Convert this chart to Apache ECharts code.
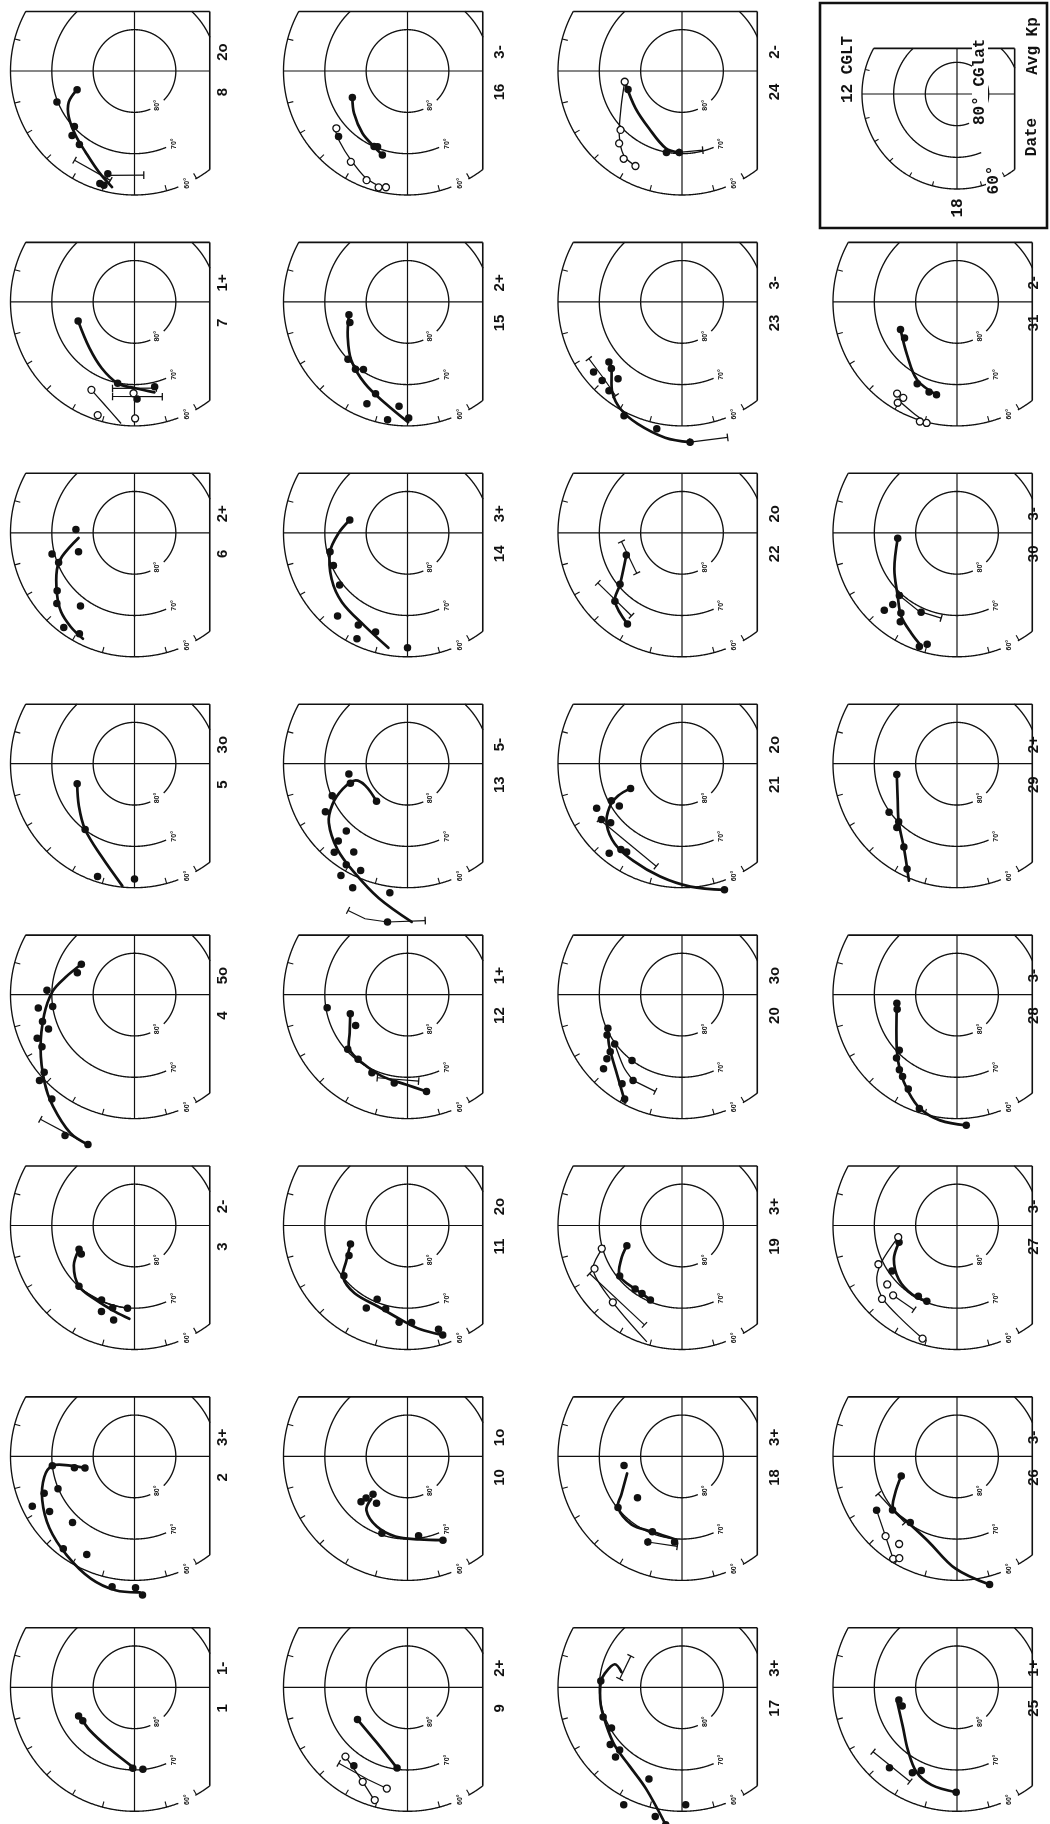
<!DOCTYPE html>
<html>
<head>
<meta charset="utf-8">
<script src="https://cdn.jsdelivr.net/npm/echarts@6/dist/echarts.min.js"></script>
<style>
  html, body { margin: 0; padding: 0; background: #fff; }
  #chart { width: 1050px; height: 1824px; }
</style>
</head>
<body>
<div id="chart"></div>
<script>
// Daily dials: corrected geomagnetic latitude (deg) vs corrected geomagnetic local time (h).
// Every point is [CGlat, CGLT].
const DATES = [1, 2, 3, 4, 5, 6, 7, 8, 9, 10, 11, 12, 13, 14, 15, 16,
               17, 18, 19, 20, 21, 22, 23, 24, 25, 26, 27, 28, 29, 30, 31];
const KP = ['1-', '3+', '2-', '5o', '3o', '2+', '1+', '2o',
            '2+', '1o', '2o', '1+', '5-', '3+', '2+', '3-',
            '3+', '3+', '3+', '3o', '2o', '2o', '3-', '2-',
            '1+', '3-', '3-', '3-', '2+', '3-', '2-'];

// filled symbols, one list per day
const FILLED = [
  [[74.8,13.81],[75.1,14.19],[70.4,17.92],[70.1,18.39]],
  [[75.2,12.72],[77.7,12.87],[70.0,12.43],[69.9,13.53],[66.4,13.48],[62.5,13.73],[65.5,14.2],[68.1,15.12],[61.8,15.49],[63.6,16.27],[58.0,17.35],[58.2,18.03],[56.4,18.22]],
  [[75.4,13.55],[75.4,13.88],[70.1,15.17],[70.3,16.41],[67.7,16.6],[69.4,17.01],[66.6,17.17],[69.9,17.68]],
  [[75.2,10.02],[75.2,10.61],[68.8,11.81],[70.0,12.55],[66.5,12.53],[66.8,13.09],[67.6,13.45],[64.2,13.61],[64.3,13.96],[61.2,14.71],[59.0,14.81],[57.8,15.44],[52.0,16.25],[52.0,16.85]],
  [[75.3,13.29],[70.1,15.54],[61.3,16.79],[62.1,18.0]],
  [[75.8,11.78],[75.7,13.25],[69.4,12.96],[70.3,13.42],[66.6,14.46],[64.6,14.82],[68.0,15.57],[61.4,15.55],[62.2,16.09]],
  [[75.6,13.25],[69.9,17.22],[68.9,18.89],[66.5,18.1]],
  [[75.4,13.2],[69.8,13.45],[70.2,14.85],[68.3,15.06],[67.8,15.54],[64.3,17.03],[61.5,16.86],[61.4,17.0]],
  [[75.6,14.19],[70.3,17.51],[67.0,15.71]],
  [[74.3,14.95],[75.8,15.01],[77.6,15.18],[76.4,15.77],[70.4,16.77],[70.6,18.53],[68.0,19.53]],
  [[75.5,13.2],[74.1,13.81],[70.4,14.55],[67.7,16.23],[70.7,16.51],[69.2,17.02],[66.5,17.67],[66.5,18.16],[63.8,19.11],[62.2,19.19]],
  [[70.3,12.62],[75.4,13.24],[75.4,14.05],[70.4,14.83],[70.3,15.51],[69.2,16.37],[68.4,17.43],[66.1,18.74]],
  [[75.6,12.66],[75.4,13.26],[70.2,13.54],[67.0,14.02],[78.2,15.37],[68.0,15.18],[64.9,15.21],[62.2,15.36],[65.0,15.91],[61.4,15.92],[61.8,16.42],[58.5,15.95],[57.2,16.41],[58.5,17.48],[51.4,17.52]],
  [[75.7,11.17],[70.7,12.92],[70.4,13.59],[69.3,14.5],[63.7,15.33],[64.7,16.13],[64.8,16.81],[61.6,16.3],[62.2,18.0]],
  [[75.5,12.82],[75.2,13.31],[70.0,14.93],[69.4,15.49],[70.5,15.79],[66.5,16.72],[63.5,16.55],[64.7,17.69],[61.1,17.36],[61.9,18.04]],
  [[75.2,13.71],[70.0,16.41],[70.3,16.56],[68.8,16.89],[67.0,14.9]],
  [[70.3,11.71],[69.6,13.38],[70.3,14.0],[67.8,14.57],[66.7,15.09],[68.6,15.01],[66.4,16.68],[58.3,16.24],[58.1,17.22],[56.5,17.55],[61.6,18.12]],
  [[75.8,12.6],[75.3,14.86],[70.2,14.57],[70.4,16.57],[67.7,16.55],[69.2,17.67]],
  [[75.8,13.34],[70.6,14.6],[70.9,15.57],[70.9,15.97],[70.4,16.47]],
  [[70.3,13.63],[69.4,13.89],[69.8,14.42],[67.8,14.57],[66.1,14.7],[63.9,14.89],[70.0,15.52],[66.1,16.02],[64.0,15.74],[61.2,16.08]],
  [[76.2,13.71],[70.7,13.85],[71.7,14.27],[66.7,13.84],[66.3,14.31],[67.6,14.64],[62.1,15.39],[64.5,15.64],[64.8,15.86],[57.8,19.24]],
  [[75.5,13.45],[70.5,14.65],[66.8,15.04],[64.3,15.94]],
  [[67.1,14.63],[66.5,14.89],[65.8,15.35],[62.7,14.56],[62.9,14.97],[62.2,15.37],[59.1,16.2],[58.7,17.25],[56.0,18.22]],
  [[76.2,13.26],[69.9,17.28],[70.3,17.87]],
  [[75.6,12.82],[76.0,13.25],[64.6,15.33],[66.7,16.16],[68.1,16.45],[64.6,17.97]],
  [[75.7,13.29],[69.7,14.65],[70.4,15.65],[66.6,14.25],[58.0,18.95]],
  [[75.4,13.08],[70.8,14.33],[70.5,16.09],[70.3,16.55]],
  [[75.3,12.55],[75.1,12.91],[70.6,14.93],[68.8,15.09],[67.1,15.5],[66.2,15.76],[64.3,16.18],[61.0,16.78],[58.3,18.27]],
  [[75.2,12.68],[69.8,14.37],[70.1,14.99],[68.8,15.11],[66.1,15.83],[61.8,16.31]],
  [[75.6,12.35],[69.4,15.16],[66.7,15.21],[64.3,15.12],[66.3,15.67],[68.9,16.38],[64.5,15.83],[61.0,16.78],[62.1,17.0]],
  [[74.8,13.73],[74.6,14.3],[68.0,16.27],[67.2,16.85],[67.0,17.17]]
];

// open symbols
const OPEN = [
  [], [], [], [], [], [],
  [[67.9,17.96],[66.3,16.26],[61.2,16.8],[61.8,18.02]],
  [],
  [[67.5,15.21],[64.7,16.31],[65.0,17.23],[61.6,16.92]],
  [], [], [], [], [], [],
  [[67.9,14.59],[64.1,15.87],[61.8,16.63],[61.0,17.07],[61.4,17.3]],
  [], [],
  [[69.8,13.07],[66.4,13.75],[65.0,15.2]],
  [], [], [], [],
  [[75.9,12.71],[69.4,14.92],[66.8,15.27],[64.5,15.76],[64.4,16.26]],
  [],
  [[64.1,15.21],[64.6,15.77],[60.8,15.87],[61.7,16.03]],
  [[75.5,12.75],[68.8,13.75],[67.9,14.68],[64.6,14.96],[67.1,15.17],[61.4,16.87]],
  [], [], [],
  [[63.5,15.79],[63.4,16.05],[61.7,15.97],[59.8,17.06],[59.7,16.85]]
];

// heavy smoothed tracks
const TRACKS = [
  [[[75.1,14.01],[75.0,14.9],[74.0,16.51],[70.4,18.0]]],
  [[[77.7,12.87],[74.3,12.54],[70.0,12.43],[67.6,12.86],[65.3,13.69],[63.1,14.67],[61.0,15.71],[58.6,16.69],[57.3,17.46],[57.1,18.15]]],
  [[[75.4,13.55],[72.4,14.23],[70.1,15.17],[69.7,16.19],[68.6,17.17],[67.4,17.79]]],
  [[[75.2,10.02],[72.7,11.09],[70.2,11.84],[67.6,12.84],[63.8,13.99],[59.6,14.95],[56.6,15.58],[53.1,16.34],[52.0,16.85]]],
  [[[75.3,13.29],[73.1,14.48],[70.1,15.54],[66.2,16.69],[60.3,17.62]]],
  [[[76.4,12.35],[71.6,13.2],[69.2,13.7],[66.2,14.53],[63.9,15.14],[62.5,15.73],[61.5,16.27]]],
  [[[75.6,13.25],[74.4,15.04],[72.1,16.25],[69.9,17.22],[69.1,18.03],[67.6,18.83]]],
  [[[75.4,13.2],[72.4,13.69],[70.6,14.33],[68.9,15.17],[67.1,15.92],[64.1,16.7],[61.4,17.27]]],
  [[[75.6,14.19],[74.7,16.05],[70.3,17.51]]],
  [[[76.5,15.3],[73.6,15.51],[71.5,16.41],[70.4,17.43],[69.7,18.55],[68.0,19.53]]],
  [[[75.5,13.2],[72.9,14.0],[70.0,14.58],[69.2,15.47],[69.1,16.71],[66.9,17.82],[64.7,18.47],[62.4,19.13]]],
  [[[75.4,13.24],[73.3,14.21],[70.7,14.89],[70.2,15.74],[69.3,16.86],[68.2,17.96],[66.1,18.74]]],
  [[[78.2,15.37],[78.5,13.83],[76.6,13.18],[73.2,13.42],[69.4,13.89],[66.2,14.46],[63.2,15.39],[60.6,16.29],[56.7,17.2],[51.7,18.1]]],
  [[[75.7,11.17],[73.3,12.03],[70.7,12.92],[68.5,14.09],[66.9,15.11],[65.2,16.35],[61.8,17.37]]],
  [[[75.5,12.82],[73.3,14.0],[70.4,15.07],[67.7,16.17],[64.8,17.2],[60.9,18.02]]],
  [[[75.2,13.71],[73.5,14.56],[71.4,15.61],[70.0,16.41],[68.8,16.89]]],
  [[[74.9,11.06],[72.8,10.74],[71.0,11.33],[70.3,11.76],[69.9,12.79],[69.6,13.67],[68.5,14.71],[67.1,15.76],[63.9,16.71],[56.5,17.55]]],
  [[[76.1,13.15],[72.7,14.14],[70.2,14.57],[69.5,15.55],[70.4,16.57],[69.8,17.74]]],
  [[[75.8,13.34],[73.2,13.93],[70.6,14.6],[70.9,15.57],[70.9,15.97],[70.4,16.47]]],
  [[[70.3,13.63],[68.7,14.25],[67.3,14.78],[65.2,15.37],[60.5,16.15]]],
  [[[76.2,13.71],[72.7,13.78],[69.5,14.07],[66.6,14.59],[64.7,15.34],[63.7,16.23],[62.2,17.27],[60.2,18.26],[57.8,19.24]]],
  [[[75.5,13.45],[70.5,14.65],[66.8,15.04],[64.3,15.94]]],
  [[[67.1,14.63],[66.5,14.89],[62.4,15.49],[60.1,16.02],[58.6,16.67],[56.9,17.53],[56.0,18.22]]],
  [[[75.9,12.71],[75.6,14.57],[74.0,16.0],[70.9,17.21],[70.3,17.87]]],
  [[[75.1,13.0],[73.8,14.4],[70.7,15.47],[67.3,16.29],[65.6,17.02],[64.6,17.97]]],
  [[[75.7,13.29],[72.5,14.07],[70.0,14.64],[70.1,15.58],[68.3,16.76],[62.9,17.94],[58.0,18.95]]],
  [[[75.4,13.08],[72.7,13.87],[70.8,14.85],[70.1,15.81],[70.3,16.55]]],
  [[[75.3,12.55],[70.3,14.82],[66.9,15.57],[63.7,16.23],[61.0,16.81],[59.3,17.49],[58.3,18.27]]],
  [[[75.2,12.68],[73.2,14.09],[70.1,14.99],[65.5,15.91],[59.4,16.51]]],
  [[[75.6,12.35],[72.5,14.0],[69.0,15.13],[65.7,15.75],[63.3,16.37],[61.2,16.85]]],
  [[[74.8,13.73],[72.4,15.11],[68.8,16.2],[66.9,17.21]]]
];

// light connecting tracks
const THIN = [
  [], [],
  [[[70.0,15.49],[70.1,16.6],[69.9,17.6]]],
  [], [], [],
  [[[66.3,16.26],[64.3,16.87],[60.4,17.58]]],
  [],
  [[[67.5,15.21],[64.7,16.31],[61.1,16.97]]],
  [], [], [], [], [], [],
  [[[67.7,14.48],[66.3,15.08],[64.5,15.83],[62.2,16.59],[60.9,17.33]]],
  [], [],
  [[[70.7,12.95],[66.0,13.75],[65.0,15.2],[60.6,16.88]]],
  [[[70.1,14.25],[67.5,15.41],[66.1,16.02]]],
  [], [], [],
  [[[75.9,12.71],[73.2,13.94],[68.3,15.04],[65.2,15.69],[64.4,16.26]]],
  [],
  [[[66.6,14.25],[64.3,15.15],[60.8,15.87]]],
  [[[75.5,12.75],[69.6,13.74],[66.4,14.31],[64.7,15.04],[63.6,15.99],[61.4,16.87]]],
  [], [], [],
  [[[62.3,15.95],[61.2,16.53],[59.8,17.06]]]
];

// spread bars (capped at both ends)
const SPREAD = [
  [], [], [],
  [[[52.2,15.53],[52.0,16.85]]],
  [], [],
  [[[68.4,17.05],[68.5,18.95]],[[66.5,17.13],[66.1,19.09]]],
  [[[64.0,15.74],[62.9,17.17]],[[63.9,17.02],[64.7,18.34]]],
  [[[65.2,15.19],[65.7,16.45],[65.0,17.23]]],
  [], [],
  [[[68.6,16.67],[68.9,18.49]]],
  [[[51.7,16.53],[51.1,16.98],[51.4,17.52],[51.8,18.43]]],
  [], [], [],
  [[[74.8,11.49],[75.5,9.91]]],
  [[[67.7,16.55],[68.2,17.8]]],
  [[[64.8,13.83],[64.3,16.62]]],
  [[[66.1,16.02],[65.7,16.97]]],
  [[[65.9,14.26],[64.4,17.06]]],
  [[[75.2,12.55],[75.3,14.79]],[[66.3,14.05],[66.5,15.91]]],
  [[[56.0,18.22],[55.4,19.24]],[[63.6,14.09],[63.5,14.97],[62.2,15.65]]],
  [[[70.3,17.87],[70.2,18.98]]],
  [[[64.4,14.5],[64.5,16.23]]],
  [[[68.9,13.69],[69.6,15.46]]],
  [[[67.1,15.17],[67.1,16.2]]],
  [], [],
  [[[69.4,15.16],[68.9,16.29],[69.0,17.3]]],
  []
];

// ---- layout ----
const COL_X = [134.5, 407.5, 682, 957];
const ROW_Y0 = 71, ROW_STEP = 230.9, DIAL_R = 124;
const LABEL_DX = [88, 92, 93, 77];
const KEY_CENTER = [957, 94], KEY_R = 95;
const EDGE_RIGHT = 0.607, EDGE_TOP = 0.48;   // dial frame, as a fraction of the 60° radius
const INK = '#111111';
// latitude circles; each skips the hour span where its label sits
const RINGS = [
  { lat: 80, gap: [19.5, 21.0], label: '80°', at: 20.25 },
  { lat: 70, gap: [19.5, 22.6], label: '70°', at: 19.9 },
  { lat: 60, gap: [19.4, 19.95], label: '60°', at: 19.67 }
];
const TICK_HOURS = [11, 13, 14, 15, 16, 17, 19, 20];

function dialCenter(i) {
  const col = Math.floor(i / 8), row = 7 - (i % 8);
  return [COL_X[col], ROW_Y0 + ROW_STEP * row];
}

function frameRenderer(withRingLabels) {
  return function (params, api) {
    const c = api.coord([90, 0]);
    const e = api.coord([60, 12]);
    const R = Math.hypot(e[0] - c[0], e[1] - c[1]);
    const xr = c[0] + EDGE_RIGHT * R, yt = c[1] - EDGE_TOP * R;
    const kids = [];
    const poly = (pts, w) => kids.push({ type: 'polyline', shape: { points: pts },
      style: { stroke: INK, lineWidth: w, fill: null } });
    const seg = (a, b, w) => kids.push({ type: 'line',
      shape: { x1: a[0], y1: a[1], x2: b[0], y2: b[1] }, style: { stroke: INK, lineWidth: w } });
    RINGS.forEach(ring => {
      let run = [];
      for (let k = 0; k <= 1200; k++) {
        const h = k * 0.02;
        const p = api.coord([ring.lat, h]);
        const keep = p[0] <= xr + 0.3 && p[1] >= yt - 0.3 && !(h > ring.gap[0] && h < ring.gap[1]);
        if (keep) run.push(p);
        else { if (run.length > 1) poly(run, 1.35); run = []; }
      }
      if (run.length > 1) poly(run, 1.35);
      if (withRingLabels) {
        const p = api.coord([ring.lat, ring.at]);
        kids.push({ type: 'text', x: p[0], y: p[1], rotation: Math.PI / 2,
          style: { text: ring.label, fontSize: 7, fontWeight: 'bold', fontFamily: 'Liberation Sans',
                   fill: INK, align: 'center', verticalAlign: 'middle' } });
      }
    });
    TICK_HOURS.forEach(h => seg(api.coord([60, h]), api.coord([61.4, h]), 1.1));
    seg(api.coord([60, 12]), [xr, c[1]], 1.2);
    seg([c[0], yt], api.coord([60, 18]), 1.2);
    const halfTop = Math.sqrt(R * R - (EDGE_TOP * R) * (EDGE_TOP * R));
    seg([c[0] - halfTop, yt], [xr, yt], 1.6);
    const halfRight = Math.sqrt(R * R - (EDGE_RIGHT * R) * (EDGE_RIGHT * R));
    seg([xr, yt], [xr, c[1] + halfRight], 1.6);
    return { type: 'group', children: kids };
  };
}

// tracks and spread bars of one day, placed through the dial's polar scales
function marksRenderer(i) {
  return function (params, api) {
    const kids = [];
    const toPx = line => line.map(p => api.coord(p));
    TRACKS[i].forEach(t => kids.push({ type: 'polyline', shape: { points: toPx(t), smooth: 0.35 },
      style: { stroke: INK, lineWidth: 2.7, fill: null, lineJoin: 'round', lineCap: 'round' } }));
    THIN[i].forEach(t => kids.push({ type: 'polyline', shape: { points: toPx(t), smooth: 0.3 },
      style: { stroke: INK, lineWidth: 1.3, fill: null } }));
    SPREAD[i].forEach(bar => {
      const pts = toPx(bar);
      kids.push({ type: 'polyline', shape: { points: pts },
        style: { stroke: INK, lineWidth: 1.2, fill: null } });
      const caps = [[pts[0], pts[1]], [pts[pts.length - 1], pts[pts.length - 2]]];
      caps.forEach(([a, b]) => {
        const dx = b[0] - a[0], dy = b[1] - a[1], L = Math.hypot(dx, dy) || 1;
        const nx = -dy / L * 3.8, ny = dx / L * 3.8;
        kids.push({ type: 'line', shape: { x1: a[0] - nx, y1: a[1] - ny, x2: a[0] + nx, y2: a[1] + ny },
          style: { stroke: INK, lineWidth: 1.3 } });
      });
    });
    return { type: 'group', children: kids };
  };
}

const polar = [], angleAxis = [], radiusAxis = [], series = [], graphics = [];

function addDial(idx, center, radius) {
  polar.push({ center: center, radius: radius });
  angleAxis.push({ polarIndex: idx, type: 'value', min: 0, max: 24, startAngle: 0, clockwise: false,
    show: false, splitLine: { show: false } });
  radiusAxis.push({ polarIndex: idx, type: 'value', min: 60, max: 90, inverse: true,
    show: false, splitLine: { show: false } });
}

const labelFont = { fontSize: 15, fontWeight: 'bold', fontFamily: 'Liberation Sans' };

DATES.forEach((d, i) => {
  const c = dialCenter(i);
  addDial(i, c, DIAL_R);
  series.push({ type: 'custom', coordinateSystem: 'polar', polarIndex: i, silent: true, z: 1,
    clip: false, data: [[90, 0]], renderItem: frameRenderer(true) });
  series.push({ type: 'custom', coordinateSystem: 'polar', polarIndex: i, silent: true, z: 3,
    clip: false, data: [[90, 0]], renderItem: marksRenderer(i) });
  series.push({ type: 'scatter', coordinateSystem: 'polar', polarIndex: i, data: FILLED[i],
    symbol: 'circle', symbolSize: 7.5, silent: true, z: 4, clip: false,
    itemStyle: { color: INK, opacity: 1 } });
  if (OPEN[i].length) series.push({ type: 'scatter', coordinateSystem: 'polar', polarIndex: i,
    data: OPEN[i], symbol: 'circle', symbolSize: 7, silent: true, z: 5, clip: false,
    itemStyle: { color: '#fff', borderColor: INK, borderWidth: 1.3, opacity: 1 } });
  const col = Math.floor(i / 8);
  const lx = c[0] + LABEL_DX[col];
  graphics.push({ type: 'text', x: lx, y: c[1] + 21, rotation: Math.PI / 2,
    style: Object.assign({ text: String(d), fill: INK, align: 'center', verticalAlign: 'middle' }, labelFont) });
  graphics.push({ type: 'text', x: lx, y: c[1] - 19, rotation: Math.PI / 2,
    style: Object.assign({ text: KP[i], fill: INK, align: 'center', verticalAlign: 'middle' }, labelFont) });
});

// key dial
const keyIdx = DATES.length;
addDial(keyIdx, KEY_CENTER, KEY_R);
series.push({ type: 'custom', coordinateSystem: 'polar', polarIndex: keyIdx, silent: true, z: 1,
  clip: false, data: [[90, 0]], renderItem: frameRenderer(false) });

const keyFont = { fontSize: 16, fontWeight: 'bold', fontFamily: 'Liberation Mono', fill: INK };
graphics.push({ type: 'rect', shape: { x: 820, y: 3, width: 227, height: 225 },
  style: { fill: null, stroke: INK, lineWidth: 2.6 } });
const keyText = (text, x, y, align, extra) => graphics.push({ type: 'text', x: x, y: y,
  rotation: Math.PI / 2, z: 10,
  style: Object.assign({ text: text, align: align, verticalAlign: 'middle' }, keyFont, extra || {}) });
keyText('12 CGLT', 848, 103, 'left');
keyText('18', 958, 208, 'center');
keyText('80° CGlat', 980, 126, 'left', { backgroundColor: '#fff', padding: [0, 1] });
keyText('60°', 994, 180, 'center', { backgroundColor: '#fff' });
keyText('Date', 1032, 137, 'center');
keyText('Avg Kp', 1033, 46, 'center');

const chart = echarts.init(document.getElementById('chart'), null, { renderer: 'canvas' });
chart.setOption({
  animation: false,
  backgroundColor: '#ffffff',
  polar: polar,
  angleAxis: angleAxis,
  radiusAxis: radiusAxis,
  series: series,
  graphic: { elements: graphics }
});
</script>
</body>
</html>
